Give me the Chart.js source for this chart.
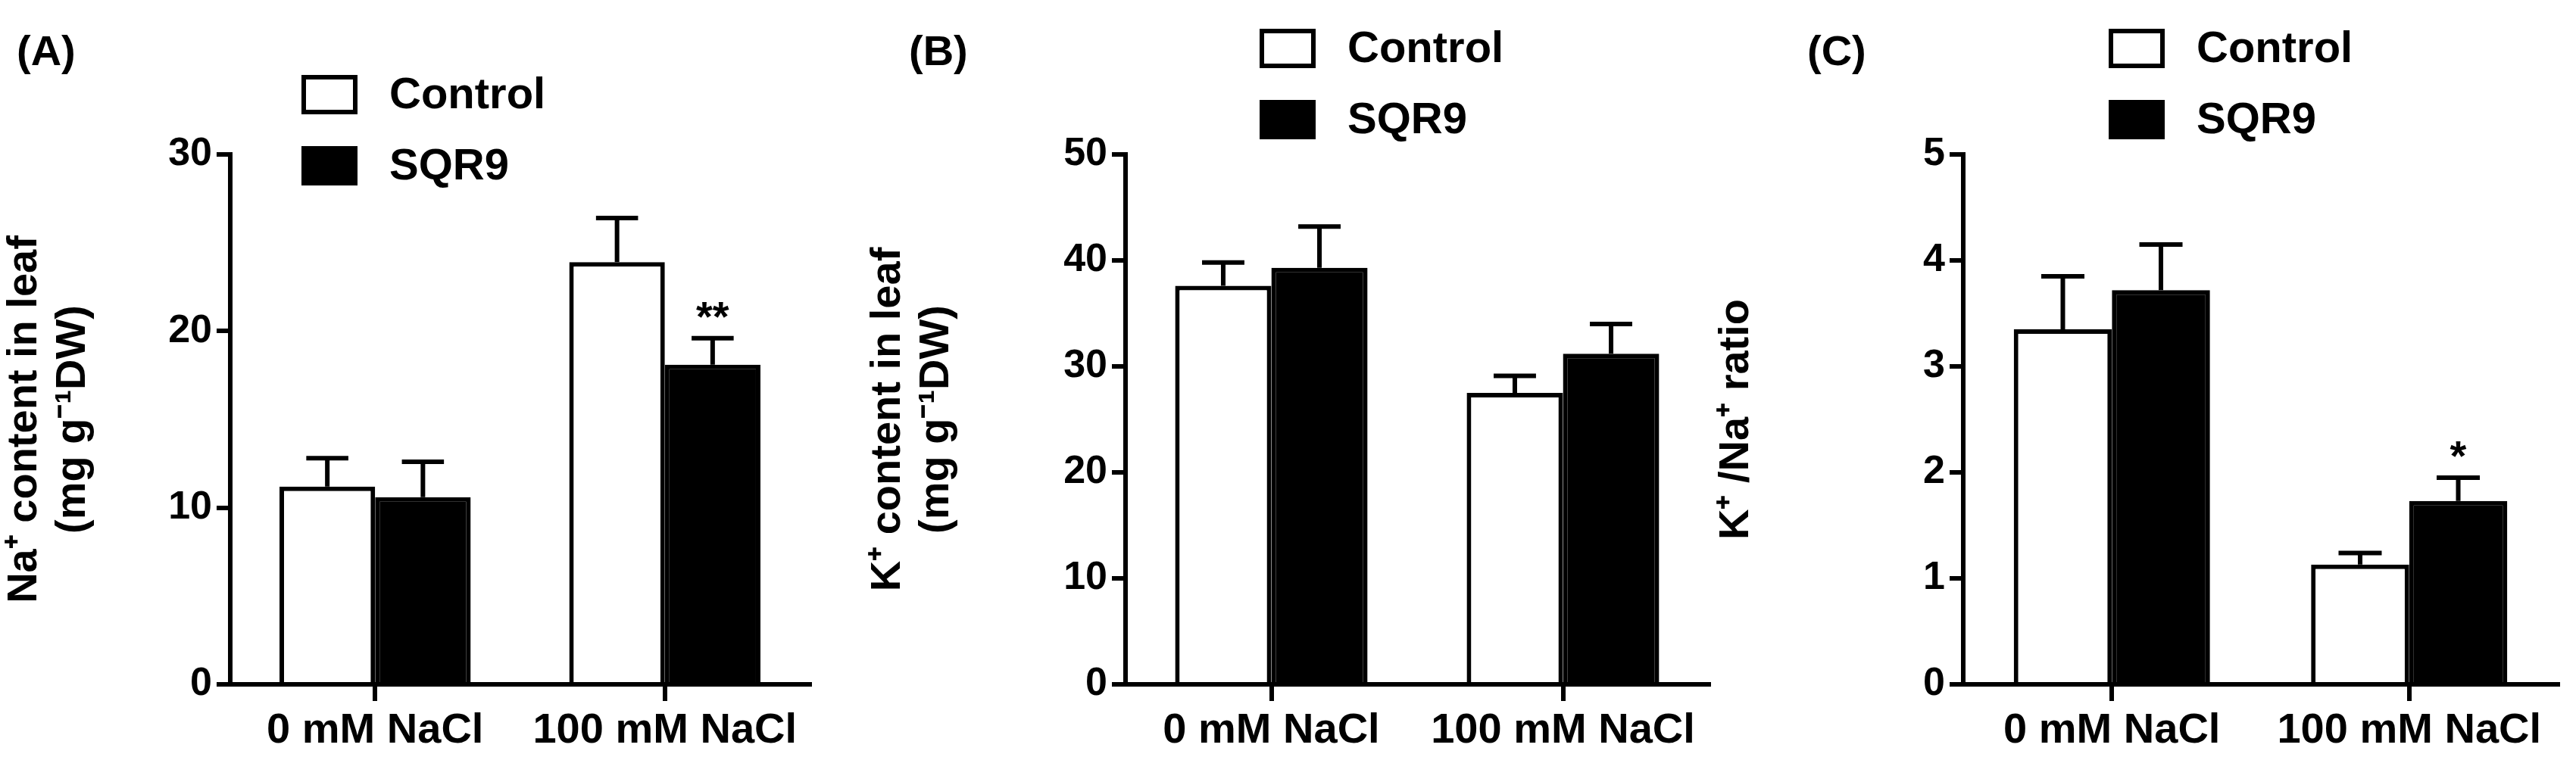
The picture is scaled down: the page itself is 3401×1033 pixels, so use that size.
<!DOCTYPE html>
<html><head><meta charset="utf-8">
<script src="https://cdn.jsdelivr.net/npm/chart.js@4.4.0/dist/chart.umd.min.js"></script>
<style>
html,body{margin:0;padding:0;background:#fff;width:3401px;height:1033px;overflow:hidden}
.p{position:absolute;top:0;width:1140px;height:1033px}
</style></head><body>
<div class="p" style="left:0"><canvas id="cA"></canvas></div>
<div class="p" style="left:1140px"><canvas id="cB"></canvas></div>
<div class="p" style="left:2260px"><canvas id="cC"></canvas></div>
<script>
const categories = ["0 mM NaCl", "100 mM NaCl"];
const seriesNames = ["Control", "SQR9"];
// Panel A: Na+ content
const naControl = [11.2, 23.9];
const naControlErr = [12.8, 26.4];
const naSQR9 = [10.6, 18.1];
const naSQR9Err = [12.6, 19.6];
const naStars = [["", ""], ["", "**"]];
// Panel B: K+ content
const kControl = [37.6, 27.5];
const kControlErr = [39.8, 29.1];
const kSQR9 = [39.3, 31.2];
const kSQR9Err = [43.2, 34.0];
const kStars = [["", ""], ["", ""]];
// Panel C: K+/Na+ ratio
const rControl = [3.35, 1.13];
const rControlErr = [3.85, 1.24];
const rSQR9 = [3.72, 1.73];
const rSQR9Err = [4.15, 1.95];
const rStars = [["", ""], ["", "*"]];

const FONT = "'Liberation Sans', Arial, sans-serif";
Chart.defaults.font.family = FONT;
Chart.defaults.color = '#000';

function make(id, cfg) {
  const errPlugin = {
    id: 'err',
    afterDatasetsDraw(chart) {
      const ctx = chart.ctx, ys = chart.scales.y;
      ctx.save();
      ctx.strokeStyle = '#000'; ctx.lineWidth = 6; ctx.lineCap = 'butt';
      [cfg.errC, cfg.errS].forEach((errs, di) => {
        const meta = chart.getDatasetMeta(di);
        meta.data.forEach((bar, i) => {
          const x = bar.x, yTop = bar.y, yE = ys.getPixelForValue(errs[i]);
          const cap = bar.width * 0.22;
          ctx.beginPath();
          ctx.moveTo(x, yTop); ctx.lineTo(x, yE);
          ctx.moveTo(x - cap, yE); ctx.lineTo(x + cap, yE);
          ctx.stroke();
          const s = cfg.stars[i][di];
          if (s) {
            ctx.fillStyle = '#000';
            ctx.font = 'bold 56px ' + FONT;
            ctx.textAlign = 'center'; ctx.textBaseline = 'alphabetic';
            ctx.fillText(s, x, yE - 10);
          }
        });
      });
      // legend
      const lg = cfg.legend;
      seriesNames.forEach((n, k) => {
        const cy = lg.y + k * 94;
        ctx.lineWidth = 6;
        ctx.fillStyle = k === 0 ? '#fff' : '#000';
        ctx.fillRect(lg.x, cy - 23, 68, 46);
        ctx.strokeRect(lg.x, cy - 23, 68, 46);
        ctx.fillStyle = '#000';
        ctx.font = 'bold 58px ' + FONT;
        ctx.textAlign = 'left'; ctx.textBaseline = 'middle';
        ctx.fillText(n, lg.x + 113, cy + 2);
      });
      ctx.font = 'bold 56px ' + FONT;
      ctx.textAlign = 'left'; ctx.textBaseline = 'middle';
      ctx.fillText(cfg.letter, cfg.letterX, 71);
      ctx.restore();
    }
  };
  new Chart(document.getElementById(id), {
    type: 'bar',
    data: {
      labels: categories,
      datasets: [
        {label: seriesNames[0], data: cfg.ctrl, backgroundColor: '#fff', borderColor: '#000', borderWidth: 6, borderSkipped: 'bottom', categoryPercentage: 0.66, barPercentage: 1.0},
        {label: seriesNames[1], data: cfg.sqr, backgroundColor: '#000', borderColor: '#000', borderWidth: 6, borderSkipped: 'bottom', categoryPercentage: 0.66, barPercentage: 1.0}
      ]
    },
    options: {
      responsive: false, animation: false, devicePixelRatio: 1,
      layout: {padding: {left: 0, top: 204, right: cfg.padR, bottom: 0}},
      plugins: {legend: {display: false}, tooltip: {enabled: false}},
      scales: {
        x: {
          grid: {display: true, drawOnChartArea: false, offset: false, color: '#000', lineWidth: 6, tickLength: 22, tickWidth: 6},
          border: {display: true, color: '#000', width: 6},
          ticks: {font: {size: 56, weight: 'bold'}, padding: 6, color: '#000', maxRotation: 0, autoSkip: false},
          afterFit(s) { s.height = 129; }
        },
        y: {
          min: 0, max: cfg.max,
          ticks: {stepSize: cfg.step, font: {size: 52, weight: 'bold'}, padding: 6, color: '#000'},
          grid: {display: true, drawOnChartArea: false, color: '#000', lineWidth: 6, tickLength: 18, tickWidth: 6},
          border: {display: true, color: '#000', width: 6},
          title: {display: true, text: cfg.title, font: {size: 56, weight: 'bold', lineHeight: 1.15}, color: '#000', padding: {top: 0, bottom: 0}},
          afterFit(s) { s.width = cfg.axisX; }
        }
      }
    },
    plugins: [errPlugin]
  });
}
function setup(id){ const c=document.getElementById(id); c.width=1140; c.height=1033; }
['cA','cB','cC'].forEach(setup);

make('cA', {ctrl: naControl, sqr: naSQR9, errC: naControlErr, errS: naSQR9Err, stars: naStars,
  max: 30, step: 10, title: ['Na⁺ content in leaf', '(mg g⁻¹DW)'], axisX: 304, padR: 1140 - 1069,
  legend: {x: 401, y: 125}, letter: '(A)', letterX: 22});
make('cB', {ctrl: kControl, sqr: kSQR9, errC: kControlErr, errS: kSQR9Err, stars: kStars,
  max: 50, step: 10, title: ['K⁺ content in leaf', '(mg g⁻¹DW)'], axisX: 346, padR: 1140 - 1116,
  legend: {x: 526, y: 64}, letter: '(B)', letterX: 60});
make('cC', {ctrl: rControl, sqr: rSQR9, errC: rControlErr, errS: rSQR9Err, stars: rStars,
  max: 5, step: 1, title: 'K⁺ /Na⁺ ratio', axisX: 332, padR: 1140 - 1117,
  legend: {x: 527, y: 64}, letter: '(C)', letterX: 126});
</script>
</body></html>
